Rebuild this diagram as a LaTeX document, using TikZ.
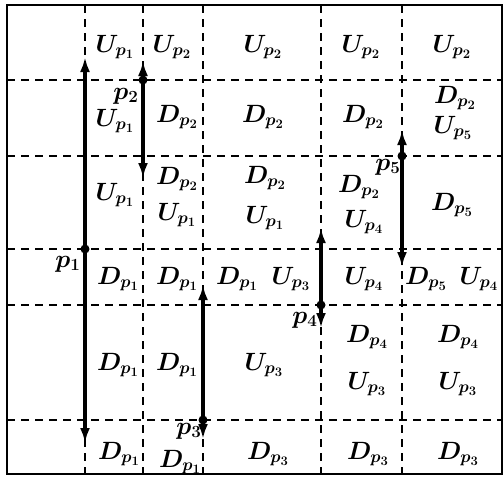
\RequirePackage{fix-cm}
\documentclass[tikz,border=0pt]{standalone}
\usepackage{amsmath,amssymb}
\usepackage{tikz}
\usetikzlibrary{arrows.meta,positioning}
\DeclareMathSizes{25}{25}{17}{13}

\begin{document}
\begin{tikzpicture}[x=1pt,y=-1pt,
    lbl/.style={inner sep=0pt, font=\fontsize{25}{29}\selectfont\boldmath},
    gridln/.style={dash pattern=on 8pt off 6pt, line width=2pt},
    arr/.style={-{Latex[length=15pt,width=10pt]}, line width=3.4pt}]
    \useasboundingbox (0,0) rectangle (504,477);
    \draw[line width=2.2pt] (7,5) rectangle (502,474);
    \foreach \gx in {85,143,203,321,402}
        \draw[gridln] (\gx,5) -- (\gx,474);
    \foreach \gy in {80,156,249,305,420}
        \draw[gridln] (7,\gy) -- (502,\gy);

    \coordinate (p1) at (85,249); \coordinate (p1t) at (85,57);  \coordinate (p1b) at (85,443);
    \coordinate (p2) at (143,80); \coordinate (p2t) at (143,61); \coordinate (p2b) at (143,178);
    \coordinate (p3) at (203,420); \coordinate (p3t) at (203,285); \coordinate (p3b) at (203,439);
    \coordinate (p4) at (321,305); \coordinate (p4t) at (321,228); \coordinate (p4b) at (321,328);
    \coordinate (p5) at (402,156); \coordinate (p5t) at (402,130); \coordinate (p5b) at (402,267);
    \foreach \pp in {p1,p2,p3,p4,p5} {
        \draw[arr] (\pp) -- (\pp t);
        \draw[arr] (\pp) -- (\pp b);
        \fill (\pp) circle (4.5);
    }

    \node[lbl] (n1) at (68,264) {$p_1$};
    \node[lbl] (n2) at (126,96) {$p_2$};
    \node[lbl] (n3) at (189,431) {$p_3$};
    \node[lbl] (n4) at (305,320) {$p_4$};
    \node[lbl] (n5) at (388,167) {$p_5$};

    \node[lbl] (a1) at (115,47) {$U_{p_1}$};
    \node[lbl] (a2) at (172,47) {$U_{p_2}$};
    \node[lbl] (a3) at (263,47) {$U_{p_2}$};
    \node[lbl] (a4) at (361,47) {$U_{p_2}$};
    \node[lbl] (a5) at (452,47) {$U_{p_2}$};

    \node[lbl] (b1) at (115,121) {$U_{p_1}$};
    \node[lbl] (b2) at (177,117) {$D_{p_2}$};
    \node[lbl] (b3) at (263,117) {$D_{p_2}$};
    \node[lbl] (b4) at (363,117) {$D_{p_2}$};
    \node[lbl] (b5) at (455,98) {$D_{p_2}$};
    \node[lbl] (b6) at (453,128) {$U_{p_5}$};

    \node[lbl] (c1) at (115,195) {$U_{p_1}$};
    \node[lbl] (c2) at (177,179) {$D_{p_2}$};
    \node[lbl] (c3) at (177,215) {$U_{p_1}$};
    \node[lbl] (c4) at (265,178) {$D_{p_2}$};
    \node[lbl] (c5) at (265,218) {$U_{p_1}$};
    \node[lbl] (c6) at (359,187) {$D_{p_2}$};
    \node[lbl] (c7) at (364,222) {$U_{p_4}$};
    \node[lbl] (c8) at (452,205) {$D_{p_5}$};

    \node[lbl] (d1) at (118,279) {$D_{p_1}$};
    \node[lbl] (d2) at (177,279) {$D_{p_1}$};
    \node[lbl] (d3) at (237,279) {$D_{p_1}$};
    \node[lbl] (d4) at (291,279) {$U_{p_3}$};
    \node[lbl] (d5) at (364,279) {$U_{p_4}$};
    \node[lbl] (d6) at (426,279) {$D_{p_5}$};
    \node[lbl] (d7) at (479,279) {$U_{p_4}$};

    \node[lbl] (e1) at (118,365) {$D_{p_1}$};
    \node[lbl] (e2) at (177,365) {$D_{p_1}$};
    \node[lbl] (e3) at (264,365) {$U_{p_3}$};
    \node[lbl] (e4) at (367,337) {$D_{p_4}$};
    \node[lbl] (e5) at (367,384) {$U_{p_3}$};
    \node[lbl] (e6) at (458,337) {$D_{p_4}$};
    \node[lbl] (e7) at (458,384) {$U_{p_3}$};

    \node[lbl] (f1) at (119,454) {$D_{p_1}$};
    \node[lbl] (f2) at (180,462) {$D_{p_1}$};
    \node[lbl] (f3) at (268,454) {$D_{p_3}$};
    \node[lbl] (f4) at (368,454) {$D_{p_3}$};
    \node[lbl] (f5) at (458,454) {$D_{p_3}$};
\end{tikzpicture}
\end{document}
